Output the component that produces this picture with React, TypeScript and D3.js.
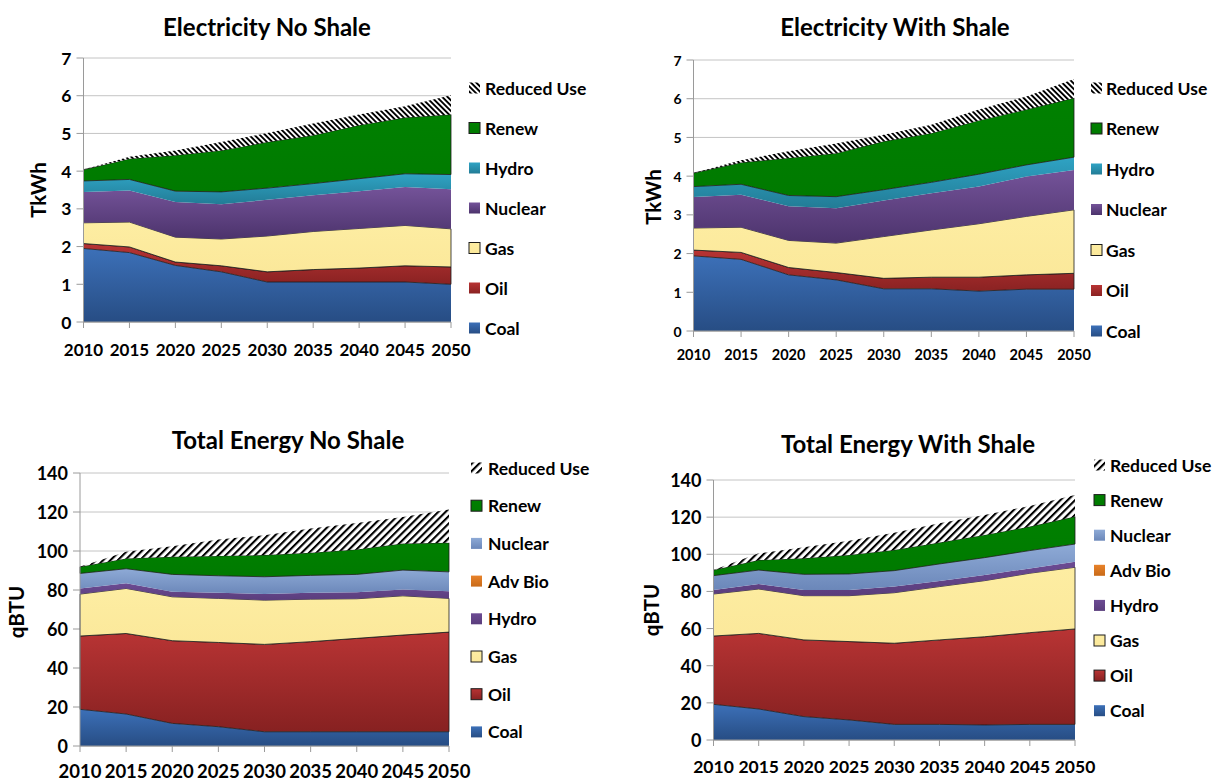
import React from "react";
import * as d3 from "d3";

const years = [2010, 2015, 2020, 2025, 2030, 2035, 2040, 2045, 2050];

const elecKeys = ["Coal", "Oil", "Gas", "Nuclear", "Hydro", "Renew", "Reduced Use"];
const totalKeys = ["Coal", "Oil", "Gas", "Hydro", "Adv Bio", "Nuclear", "Renew", "Reduced Use"];

// TkWh, stacked increments
const elecNoShale: Record<string, number[]> = {
  Coal: [1.95, 1.84, 1.5, 1.33, 1.06, 1.06, 1.06, 1.06, 1.0],
  Oil: [0.13, 0.15, 0.09, 0.16, 0.27, 0.33, 0.37, 0.43, 0.46],
  Gas: [0.55, 0.66, 0.66, 0.71, 0.95, 1.01, 1.05, 1.07, 1.01],
  Nuclear: [0.82, 0.84, 0.93, 0.92, 0.96, 0.96, 0.99, 1.02, 1.05],
  Hydro: [0.29, 0.29, 0.29, 0.33, 0.31, 0.31, 0.33, 0.35, 0.39],
  Renew: [0.3, 0.55, 0.95, 1.1, 1.22, 1.28, 1.42, 1.49, 1.59],
  "Reduced Use": [0, 0.05, 0.13, 0.22, 0.24, 0.31, 0.28, 0.3, 0.51],
};

const elecWithShale: Record<string, number[]> = {
  Coal: [1.94, 1.85, 1.45, 1.32, 1.09, 1.09, 1.03, 1.08, 1.08],
  Oil: [0.15, 0.18, 0.19, 0.19, 0.27, 0.3, 0.36, 0.37, 0.41],
  Gas: [0.57, 0.65, 0.7, 0.76, 1.08, 1.22, 1.38, 1.51, 1.64],
  Nuclear: [0.8, 0.84, 0.88, 0.9, 0.93, 0.95, 0.96, 1.03, 1.03],
  Hydro: [0.27, 0.27, 0.28, 0.3, 0.28, 0.28, 0.32, 0.3, 0.33],
  Renew: [0.35, 0.56, 0.97, 1.12, 1.25, 1.27, 1.39, 1.43, 1.53],
  "Reduced Use": [0, 0.06, 0.17, 0.25, 0.17, 0.22, 0.28, 0.34, 0.49],
};

// qBTU, stacked increments
const totalNoShale: Record<string, number[]> = {
  Coal: [18.8, 16.4, 11.6, 9.9, 7.3, 7.3, 7.3, 7.3, 7.3],
  Oil: [37.6, 41.3, 42.4, 43.2, 44.8, 46.2, 47.9, 49.6, 51.1],
  Gas: [21.5, 23.1, 22.5, 22.6, 22.7, 21.8, 20.3, 20.1, 17.3],
  Hydro: [2.9, 2.6, 2.6, 2.9, 3.1, 3.3, 3.4, 3.3, 3.7],
  "Adv Bio": [0, 0, 0, 0, 0, 0, 0, 0, 0],
  Nuclear: [7.7, 7.5, 8.9, 8.7, 8.9, 8.9, 9.1, 9.9, 9.9],
  Renew: [3.4, 5.3, 9.0, 10.2, 11.1, 11.6, 12.8, 13.6, 14.9],
  "Reduced Use": [0, 3.4, 5.5, 8.4, 10.2, 12.4, 13.6, 13.7, 17.1],
};

const totalWithShale: Record<string, number[]> = {
  Coal: [19.2, 16.7, 12.6, 10.8, 8.4, 8.4, 8.1, 8.4, 8.4],
  Oil: [36.8, 40.7, 41.3, 42.2, 43.7, 45.5, 47.5, 49.4, 51.4],
  Gas: [22.6, 23.9, 23.8, 24.7, 27.2, 28.7, 30.2, 32.0, 33.2],
  Hydro: [2.2, 2.7, 3.1, 3.1, 3.3, 3.0, 3.1, 2.6, 3.0],
  "Adv Bio": [0, 0, 0, 0, 0, 0, 0, 0, 0],
  Nuclear: [7.7, 7.5, 8.4, 8.6, 8.6, 9.2, 9.3, 9.6, 9.5],
  Renew: [3.0, 5.4, 8.6, 10.2, 11.1, 11.5, 12.2, 12.9, 14.8],
  "Reduced Use": [0, 3.6, 6.0, 7.7, 9.3, 10.4, 10.8, 11.1, 11.6],
};

// stroke = outline on the area, box = outline on the legend swatch
type Fill = { top: string; bottom: string; stroke?: boolean; box?: boolean };

const elecColors: Record<string, Fill> = {
  Coal: { top: "#3c70b8", bottom: "#274d84" },
  Oil: { top: "#b83434", bottom: "#8a2222", stroke: true },
  Gas: { top: "#fdeda2", bottom: "#fbe89a", stroke: true, box: true },
  Nuclear: { top: "#745399", bottom: "#4c336c" },
  Hydro: { top: "#2fa3c4", bottom: "#227c96" },
  Renew: { top: "#008000", bottom: "#007a00", stroke: true, box: true },
};

const totalColors: Record<string, Fill> = {
  Coal: { top: "#3c70b8", bottom: "#274d84" },
  Oil: { top: "#b83434", bottom: "#872121", stroke: true, box: true },
  Gas: { top: "#fdeda2", bottom: "#fbe89a", stroke: true, box: true },
  Hydro: { top: "#6c4b93", bottom: "#5a3d7c" },
  "Adv Bio": { top: "#e8822a", bottom: "#c86a18" },
  Nuclear: { top: "#8eaad6", bottom: "#6b87b9" },
  Renew: { top: "#008000", bottom: "#007a00", stroke: true, box: true },
};

const FONT = "Lato, 'Liberation Sans', Arial, sans-serif";

type Cfg = {
  id: string;
  title: string;
  titleX: number;
  titleY: number;
  yLabel: string;
  yLabelX: number;
  yLabelY: number;
  keys: string[];
  data: Record<string, number[]>;
  colors: Record<string, Fill>;
  x0: number;
  x1: number;
  yTop: number;
  yBot: number;
  yMax: number;
  yStep: number;
  yTickSize: number;
  xTickSize: number;
  xLabelY: number;
  legendMarkX: number;
  legendTextX: number;
  legendY0: number;
  legendStep: number;
  hatch: "back" | "fwd";
};

const configs: Cfg[] = [
  {
    id: "c1", title: "Electricity No Shale", titleX: 267, titleY: 26,
    yLabel: "TkWh", yLabelX: 38, yLabelY: 190,
    keys: elecKeys, data: elecNoShale, colors: elecColors,
    x0: 83.5, x1: 451, yTop: 58, yBot: 322, yMax: 7, yStep: 1, yTickSize: 17.5, xTickSize: 17, xLabelY: 349,
    legendMarkX: 469, legendTextX: 485, legendY0: 88, legendStep: 40, hatch: "back",
  },
  {
    id: "c2", title: "Electricity With Shale", titleX: 895, titleY: 26,
    yLabel: "TkWh", yLabelX: 653, yLabelY: 197,
    keys: elecKeys, data: elecWithShale, colors: elecColors,
    x0: 693.5, x1: 1074, yTop: 60, yBot: 331, yMax: 7, yStep: 1, yTickSize: 14, xTickSize: 14.5, xLabelY: 354,
    legendMarkX: 1091, legendTextX: 1106, legendY0: 88, legendStep: 40.5, hatch: "back",
  },
  {
    id: "c3", title: "Total Energy No Shale", titleX: 288, titleY: 439,
    yLabel: "qBTU", yLabelX: 16, yLabelY: 612,
    keys: totalKeys, data: totalNoShale, colors: totalColors,
    x0: 80, x1: 449, yTop: 473, yBot: 746, yMax: 140, yStep: 20, yTickSize: 18, xTickSize: 18.5, xLabelY: 771,
    legendMarkX: 471, legendTextX: 488, legendY0: 468, legendStep: 37.7, hatch: "fwd",
  },
  {
    id: "c4", title: "Total Energy With Shale", titleX: 908, titleY: 443,
    yLabel: "qBTU", yLabelX: 651, yLabelY: 610,
    keys: totalKeys, data: totalWithShale, colors: totalColors,
    x0: 713.5, x1: 1075, yTop: 480, yBot: 740, yMax: 140, yStep: 20, yTickSize: 18, xTickSize: 17.5, xLabelY: 766,
    legendMarkX: 1094, legendTextX: 1110, legendY0: 465, legendStep: 35.1, hatch: "fwd",
  },
];

function Chart({ c }: { c: Cfg }) {
  const x = d3.scalePoint<number>().domain(years).range([c.x0, c.x1]);
  const y = d3.scaleLinear().domain([0, c.yMax]).range([c.yBot, c.yTop]);

  const table = years.map((yr, i) => {
    const row: any = { year: yr };
    c.keys.forEach((k) => (row[k] = c.data[k][i]));
    return row;
  });
  const series = d3.stack<any>().keys(c.keys)(table);

  const area = d3
    .area<any>()
    .x((d) => x(d.data.year) as number)
    .y0((d) => y(d[0]))
    .y1((d) => y(d[1]));

  const yTicks = d3.range(0, c.yMax + c.yStep / 2, c.yStep);
  const hatchId = `${c.id}-hatch`;
  const hatchW = c.hatch === "back" ? 3.8 : 5.2;
  const hatchLine = c.hatch === "back" ? 1.9 : 2.1;

  const fillFor = (k: string) =>
    k === "Reduced Use" ? `url(#${hatchId})` : `url(#${c.id}-g-${k.replace(/\s/g, "")})`;

  const legendKeys = [...c.keys].reverse();

  return (
    <g>
      <defs>
        <pattern
          id={hatchId}
          patternUnits="userSpaceOnUse"
          width={hatchW}
          height={hatchW}
          patternTransform={`rotate(${c.hatch === "back" ? -45 : 45})`}
        >
          <rect width={hatchW} height={hatchW} fill="#fff" />
          <line x1={hatchLine / 2} y1={0} x2={hatchLine / 2} y2={hatchW} stroke="#000" strokeWidth={hatchLine} />
        </pattern>
        {c.keys
          .filter((k) => k !== "Reduced Use")
          .map((k) => (
            <linearGradient key={k} id={`${c.id}-g-${k.replace(/\s/g, "")}`} x1="0" y1="0" x2="0" y2="1">
              <stop offset="0%" stopColor={c.colors[k].top} />
              <stop offset="100%" stopColor={c.colors[k].bottom} />
            </linearGradient>
          ))}
      </defs>

      {/* gridlines + y ticks */}
      {yTicks.map((t) => (
        <g key={t}>
          <line x1={c.x0} x2={c.x1} y1={y(t)} y2={y(t)} stroke={t === 0 ? "#9a9a9a" : "#c4c4c4"} strokeWidth={1} />
          <line x1={c.x0 - 7} x2={c.x0} y1={y(t)} y2={y(t)} stroke="#9a9a9a" />
          <text
            x={c.x0 - 12}
            y={y(t)}
            textAnchor="end"
            dominantBaseline="central"
            fontFamily={FONT}
            fontWeight="bold"
            fontSize={c.yTickSize}
          >
            {t}
          </text>
        </g>
      ))}

      {/* areas */}
      {series.map((s) => {
        const k = s.key;
        const col = c.colors[k];
        return (
          <path
            key={k}
            d={area(s as any) || ""}
            fill={fillFor(k)}
            stroke={col && col.stroke ? "#1c1c1c" : "none"}
            strokeWidth={col && col.stroke ? 0.8 : 0}
            strokeLinejoin="round"
          />
        );
      })}

      {/* axes */}
      <line x1={c.x0} x2={c.x0} y1={c.yTop} y2={c.yBot} stroke="#9a9a9a" />
      <line x1={c.x0} x2={c.x1} y1={c.yBot} y2={c.yBot} stroke="#9a9a9a" />
      {years.map((yr) => (
        <g key={yr}>
          <line x1={x(yr)} x2={x(yr)} y1={c.yBot} y2={c.yBot + 6} stroke="#9a9a9a" />
          <text
            x={x(yr)}
            y={c.xLabelY}
            textAnchor="middle"
            dominantBaseline="central"
            fontFamily={FONT}
            fontWeight="bold"
            fontSize={c.xTickSize}
          >
            {yr}
          </text>
        </g>
      ))}

      <text
        x={c.titleX}
        y={c.titleY}
        textAnchor="middle"
        dominantBaseline="central"
        fontFamily={FONT}
        fontWeight="bold"
        fontSize={24}
      >
        {c.title}
      </text>

      <text
        transform={`translate(${c.yLabelX},${c.yLabelY}) rotate(-90)`}
        textAnchor="middle"
        dominantBaseline="central"
        fontFamily={FONT}
        fontWeight="bold"
        fontSize={20.5}
      >
        {c.yLabel}
      </text>

      {/* legend */}
      {legendKeys.map((k, i) => {
        const ly = c.legendY0 + i * c.legendStep;
        const col = c.colors[k];
        return (
          <g key={k}>
            <rect
              x={c.legendMarkX}
              y={ly - 5.5}
              width={11}
              height={11}
              fill={fillFor(k)}
              stroke={col && col.box ? "#1c1c1c" : "none"}
              strokeWidth={col && col.box ? 1 : 0}
            />
            <text
              x={c.legendTextX}
              y={ly}
              dominantBaseline="central"
              fontFamily={FONT}
              fontWeight="bold"
              fontSize={17.5}
            >
              {k}
            </text>
          </g>
        );
      })}
    </g>
  );
}

export default function App() {
  return (
    <svg
      width={1215}
      height={781}
      style={{ position: "absolute", left: 0, top: 0, background: "#fff" }}
    >
      <rect width={1215} height={781} fill="#fff" />
      {configs.map((c) => (
        <Chart key={c.id} c={c} />
      ))}
    </svg>
  );
}
